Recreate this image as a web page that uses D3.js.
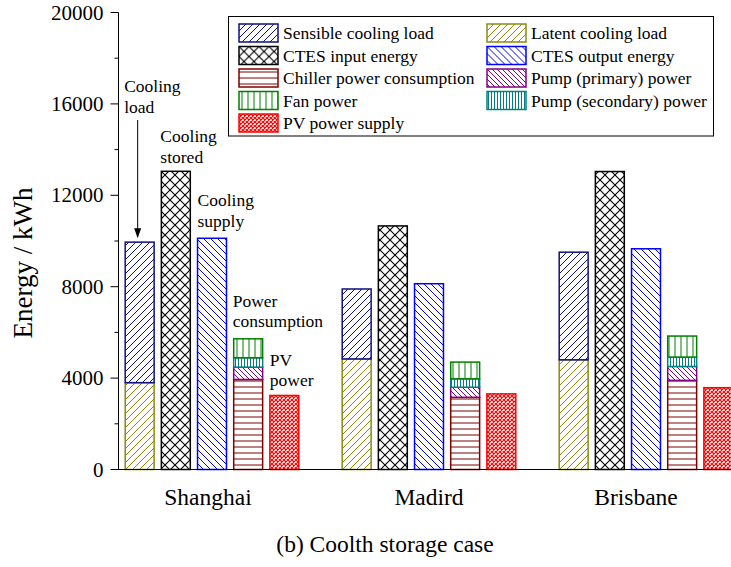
<!DOCTYPE html>
<html>
<head>
<meta charset="utf-8">
<script src="https://cdn.jsdelivr.net/npm/d3@7"></script>
<style>
  body { margin: 0; background: #fff; }
  svg { display: block; }
  svg text { font-family: "Liberation Serif", "Times New Roman", Times, serif; }
</style>
</head>
<body>
<script>
// Data (kWh)
const cities = ["Shanghai", "Madird", "Brisbane"];
const latentLoad = [3800, 4840, 4800];
const sensibleLoad = [6150, 3060, 4710];
const ctesInput = [13050, 10660, 13040];
const ctesOutput = [10120, 8130, 9660];
const chillerPower = [3940, 3160, 3900];
const pumpPrimary = [540, 440, 610];
const pumpSecondary = [410, 370, 410];
const fanPower = [830, 730, 920];
const pvSupply = [3240, 3310, 3580];
const yTicks = [0, 4000, 8000, 12000, 16000, 20000];

const series = {
    sensible: { label: "Sensible cooling load", values: sensibleLoad, color: "#10107f", pat: "fwd" },
    latent: { label: "Latent cooling load", values: latentLoad, color: "#8a8a10", pat: "fwd" },
    ctesIn: { label: "CTES input energy", values: ctesInput, color: "#000000", pat: "cross" },
    ctesOut: { label: "CTES output energy", values: ctesOutput, color: "#0000ff", pat: "back" },
    chiller: { label: "Chiller power consumption", values: chillerPower, color: "#800000", pat: "horiz" },
    pumpP: { label: "Pump (primary) power", values: pumpPrimary, color: "#800080", pat: "backDense" },
    fan: { label: "Fan power", values: fanPower, color: "#008000", pat: "vert" },
    pumpS: { label: "Pump (secondary) power", values: pumpSecondary, color: "#008080", pat: "vertDense" },
    pv: { label: "PV power supply", values: pvSupply, color: "#ff0000", pat: "crossDense" }
};
// bars within each city group, bottom to top
const bars = [["latent", "sensible"], ["ctesIn"], ["ctesOut"], ["chiller", "pumpP", "pumpS", "fan"], ["pv"]];
const legendOrder = ["sensible", "latent", "ctesIn", "ctesOut", "chiller", "pumpP", "fan", "pumpS", "pv"];

const width = 731, height = 567;
const svg = d3.select("body").append("svg")
    .attr("width", width)
    .attr("height", height);

const y = d3.scaleLinear().domain([0, 20000]).range([469.5, 12.5]);
const x = d3.scaleBand().domain(cities).range([103.5, 754.5]);
const xi = d3.scaleBand().domain(d3.range(bars.length)).range([0, x.bandwidth()])
    .paddingInner(0.2).paddingOuter(0.6);

// hatch patterns
const defs = svg.append("defs");
function makePattern(key) {
    const s = series[key];
    const cfg = {
        fwd: { size: 7, d: "M-1,1 l2,-2 M0,7 l7,-7 M6,8 l2,-2", w: 1 },
        back: { size: 7, d: "M-1,6 l2,2 M0,0 l7,7 M6,-1 l2,2", w: 1 },
        backDense: { size: 5, d: "M-1,4 l2,2 M0,0 l5,5 M4,-1 l2,2", w: 1 },
        cross: { size: 10, d: "M0,0 l10,10 M10,0 l-10,10", w: 1.1 },
        crossDense: { size: 4, d: "M0,0 l4,4 M4,0 l-4,4", w: 1.2 },
        horiz: { size: 6, d: "M0,3 h6", w: 1 },
        vert: { size: 6, d: "M3,0 v6", w: 1 },
        vertDense: { size: 3, d: "M1.5,0 v3", w: 1 }
    }[s.pat];
    const p = defs.append("pattern")
        .attr("id", "pat-" + key)
        .attr("patternUnits", "userSpaceOnUse")
        .attr("width", cfg.size)
        .attr("height", cfg.size);
    p.append("rect").attr("width", cfg.size).attr("height", cfg.size).attr("fill", "#fff");
    p.append("path").attr("d", cfg.d)
        .attr("stroke", s.color)
        .attr("stroke-width", cfg.w)
        .attr("fill", "none");
}
Object.keys(series).forEach(makePattern);

// stacked segments
const segs = [];
cities.forEach((c, ci) => {
    bars.forEach((keys, bi) => {
        let base = 0;
        keys.forEach(k => {
            const v = series[k].values[ci];
            segs.push({ city: c, bar: bi, key: k, y0: base, y1: base + v });
            base += v;
        });
    });
});

svg.append("g").selectAll("rect")
    .data(segs)
    .join("rect")
    .attr("x", d => x(d.city) + xi(d.bar))
    .attr("width", xi.bandwidth())
    .attr("y", d => y(d.y1))
    .attr("height", d => y(d.y0) - y(d.y1))
    .attr("fill", d => "url(#pat-" + d.key + ")")
    .attr("stroke", d => series[d.key].color)
    .attr("stroke-width", 1.5);

// y axis
const yAxis = svg.append("g").attr("transform", "translate(118.5,0)");
yAxis.append("line").attr("y1", y(0)).attr("y2", y(20000)).attr("stroke", "#000");
yAxis.selectAll(".minor")
    .data(d3.range(2000, 20000, 4000))
    .join("line")
    .attr("x1", -4).attr("x2", 0)
    .attr("y1", d => y(d)).attr("y2", d => y(d))
    .attr("stroke", "#000");
yAxis.selectAll(".major")
    .data(yTicks)
    .join("line")
    .attr("x1", -8).attr("x2", 0)
    .attr("y1", d => y(d)).attr("y2", d => y(d))
    .attr("stroke", "#000");
yAxis.selectAll("text")
    .data(yTicks)
    .join("text")
    .attr("x", -15)
    .attr("y", d => y(d))
    .attr("dy", "0.34em")
    .attr("text-anchor", "end")
    .attr("font-size", 21)
    .text(d => d);

svg.append("text")
    .attr("transform", "translate(32,263) rotate(-90)")
    .attr("text-anchor", "middle")
    .attr("font-size", 27)
    .text("Energy / kWh");

// x axis
svg.append("line")
    .attr("x1", 118).attr("x2", width)
    .attr("y1", 469.5).attr("y2", 469.5)
    .attr("stroke", "#000");
const labelShift = [-4, 0, -10];
svg.append("g").selectAll("text")
    .data(cities)
    .join("text")
    .attr("x", (d, i) => x(d) + x.bandwidth() / 2 + labelShift[i])
    .attr("y", 505)
    .attr("text-anchor", "middle")
    .attr("font-size", 23.5)
    .text(d => d);

svg.append("text")
    .attr("x", 385).attr("y", 552)
    .attr("text-anchor", "middle")
    .attr("font-size", 23.5)
    .text("(b) Coolth storage case");

// annotations for the first city
const c0 = cities[0];
const notes = [
    { bar: 0, lines: ["Cooling", "load"], top: 9950, dx: -1, dy: -150 },
    { bar: 1, lines: ["Cooling", "stored"], top: ctesInput[0], dx: -1, dy: -29 },
    { bar: 2, lines: ["Cooling", "supply"], top: ctesOutput[0], dx: 0, dy: -32 },
    { bar: 3, lines: ["Power", "consumption"], top: 5720, dx: -1, dy: -32 },
    { bar: 4, lines: ["PV", "power"], top: 5720, dx: 0, dy: 27 }
];
const ann = svg.append("g").attr("font-size", 17.5);
notes.forEach(n => {
    const t = ann.append("text")
        .attr("x", x(c0) + xi(n.bar) + n.dx)
        .attr("y", y(n.top) + n.dy);
    n.lines.forEach((l, i) => t.append("tspan")
        .attr("x", x(c0) + xi(n.bar) + n.dx)
        .attr("dy", i ? 20.5 : 0)
        .text(l));
});
// arrow to cooling load bar
const ax = x(c0) + xi(0) + xi.bandwidth() / 2 - 2;
svg.append("line")
    .attr("x1", ax).attr("x2", ax)
    .attr("y1", 120).attr("y2", y(9950) - 12)
    .attr("stroke", "#000");
svg.append("path")
    .attr("d", `M${ax - 3.5},${y(9950) - 14} L${ax},${y(9950) - 4} L${ax + 3.5},${y(9950) - 14} Z`)
    .attr("fill", "#000");

// legend
const lg = svg.append("g");
lg.append("rect")
    .attr("x", 228.5).attr("y", 16.5)
    .attr("width", 485).attr("height", 119.5)
    .attr("fill", "#fff")
    .attr("stroke", "#000");
const item = lg.selectAll(".item")
    .data(legendOrder)
    .join("g")
    .attr("transform", (d, i) => `translate(${i % 2 ? 487 : 239},${24 + Math.floor(i / 2) * 22.5})`);
item.append("rect")
    .attr("width", 39).attr("height", 18)
    .attr("fill", d => "url(#pat-" + d + ")")
    .attr("stroke", d => series[d].color)
    .attr("stroke-width", 1.5);
item.append("text")
    .attr("x", 44).attr("y", 15)
    .attr("font-size", 17.5)
    .text(d => series[d].label);
</script>
</body>
</html>
